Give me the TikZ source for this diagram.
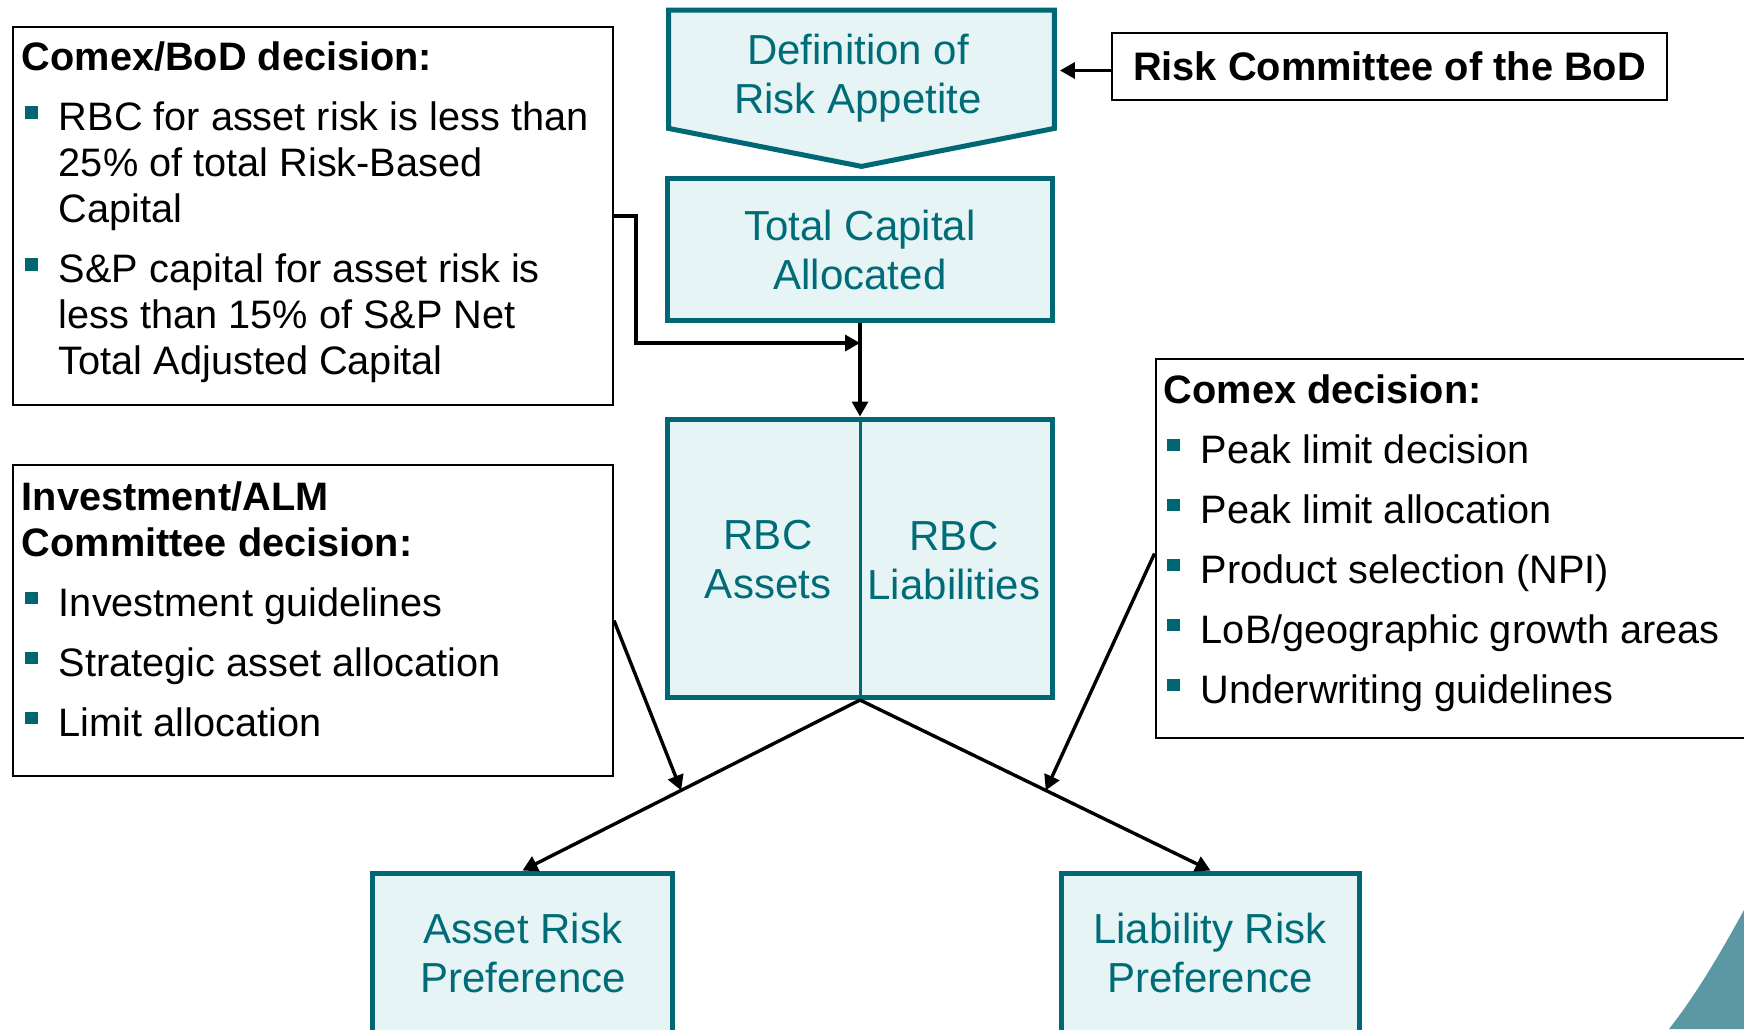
\documentclass[tikz,border=0pt]{standalone}
\usepackage{fontspec}
\setmainfont{Liberation Sans}
\usetikzlibrary{arrows.meta}

\definecolor{tealline}{RGB}{0,104,116}
\definecolor{tealfill}{RGB}{230,244,245}
\definecolor{tealink}{RGB}{0,108,120}
\definecolor{bulletteal}{RGB}{0,102,112}
\definecolor{cornerteal}{RGB}{92,152,163}

% square bullet and hanging bullet paragraph
\newcommand\bulsq{\textcolor{bulletteal}{\rule[5.8pt]{6.4pt}{6.4pt}}}
\newcommand\bitem[1]{\par\hangindent=18.5pt\hangafter=1\noindent\makebox[18.5pt][l]{\hspace*{1.4pt}\bulsq}#1}
% text block of a note box; its baseline is that of its first line
\newcommand\panel[1]{\parbox[t]{330pt}{\fontsize{19.85}{23}\selectfont\setlength\parskip{7pt}#1}}

\begin{document}
\begin{tikzpicture}[x=0.5pt,y=-0.5pt,
  tealbox/.style={draw=tealline, fill=tealfill, line width=2.5pt, inner sep=0pt},
  tealtext/.style={text=tealink, font=\fontsize{21}{24.5}\selectfont, align=center, inner sep=0pt},
  frame/.style={inner sep=0pt},
  divider/.style={draw=tealline, line width=1.5pt},
  notebox/.style={draw=black, line width=1pt, inner sep=0pt},
  conn/.style={draw=black, line width=1.7pt, -{Triangle[length=7.5pt,width=8pt]}}]

\useasboundingbox (0,0) rectangle (1744,1029);
\clip (0,0) rectangle (1744,1029);

% decorative corner
\fill[cornerteal] (1744,910) .. controls (1722,950) and (1698,992) .. (1669,1029) -- (1744,1029) -- cycle;

% central column
\node[frame, minimum width=192.5pt, minimum height=58.75pt] (def) at (861.5,69.25) {};
\draw[tealbox] (def.north west) -- (def.north east) -- (def.south east)
  -- ([yshift=-19pt]def.south) -- (def.south west) -- cycle;
\node[tealtext] (deftxt) at (858,78) {Definition of\\Risk Appetite};

\node[tealbox, tealtext, minimum width=192.5pt, minimum height=71pt] (total) at (860,249.5) {Total Capital\\Allocated};

\node[tealbox, minimum width=192.5pt, minimum height=139.25pt] (rbc) at (860,558.25) {};
\draw[divider] (rbc.north) -- (rbc.south);
\node[tealtext] (rbca) at (768,560) {RBC\\Assets};
\node[tealtext] (rbcl) at (954,561) {RBC\\Liabilities};

\node[tealbox, minimum width=150pt, minimum height=113.5pt] (asset) at (522.5,986.5) {};
\node[tealtext] (assettxt) at (523,953) {Asset Risk\\Preference};
\node[tealbox, minimum width=149pt, minimum height=113.5pt] (liab) at (1210.5,986.5) {};
\node[tealtext] (liabtxt) at (1210,953) {Liability Risk\\Preference};

% committee box
\node[notebox, minimum width=277.5pt, minimum height=33.5pt,
  font=\bfseries\fontsize{19.9}{23}\selectfont] (risk) at (1389.5,66.5) {Risk Committee of the BoD};

% decision boxes
\node[notebox, minimum width=300pt, minimum height=189pt] (cbod) at (313,216) {};
\node[anchor=base west, inner sep=0pt] (cbodtxt) at (21.5,70.7) {\panel{%
  \textbf{Comex/BoD decision:}
  \bitem{RBC for asset risk is less than\\25\% of total Risk-Based\\Capital}
  \bitem{S\&P capital for asset risk is\\less than 15\% of S\&P Net\\Total Adjusted Capital}}};

\node[notebox, minimum width=300pt, minimum height=155.5pt] (inv) at (313,620.5) {};
\node[anchor=base west, inner sep=0pt] (invtxt) at (21.5,510) {\panel{%
  \textbf{Investment/ALM\\Committee decision:}
  \bitem{Investment guidelines}
  \bitem{Strategic asset allocation}
  \bitem{Limit allocation}}};

\node[notebox, minimum width=322.25pt, minimum height=189.5pt] (cdec) at (1477.75,548.5) {};
\node[anchor=base west, inner sep=0pt] (cdectxt) at (1163.5,403) {\panel{%
  \textbf{Comex decision:}
  \bitem{Peak limit decision}
  \bitem{Peak limit allocation}
  \bitem{Product selection (NPI)}
  \bitem{LoB/geographic growth areas}
  \bitem{Underwriting guidelines}}};

% connectors
\coordinate (rk) at ([yshift=-2pt]risk.west);
\coordinate (rkend) at (rk -| def.east);
\draw[conn, shorten >=2.75pt] (rk) -- (rkend);

\coordinate (elb) at (636,343);
\coordinate (jn) at (860,343);
\draw[conn] (cbod.east) -| (elb) -- (jn);

\draw[conn] (total.south) -- (rbc.north);
\draw[conn] (rbc.south) -- (asset.north);
\draw[conn] (rbc.south) -- (liab.north);

\path (rbc.south) -- (asset.north) coordinate[pos=0.53] (pl);
\path (rbc.south) -- (liab.north) coordinate[pos=0.53] (pr);
\draw[conn] (inv.east) -- (pl);
\coordinate (cd) at ([yshift=-2.5pt]cdec.west);
\draw[conn] (cd) -- (pr);
\end{tikzpicture}
\end{document}
